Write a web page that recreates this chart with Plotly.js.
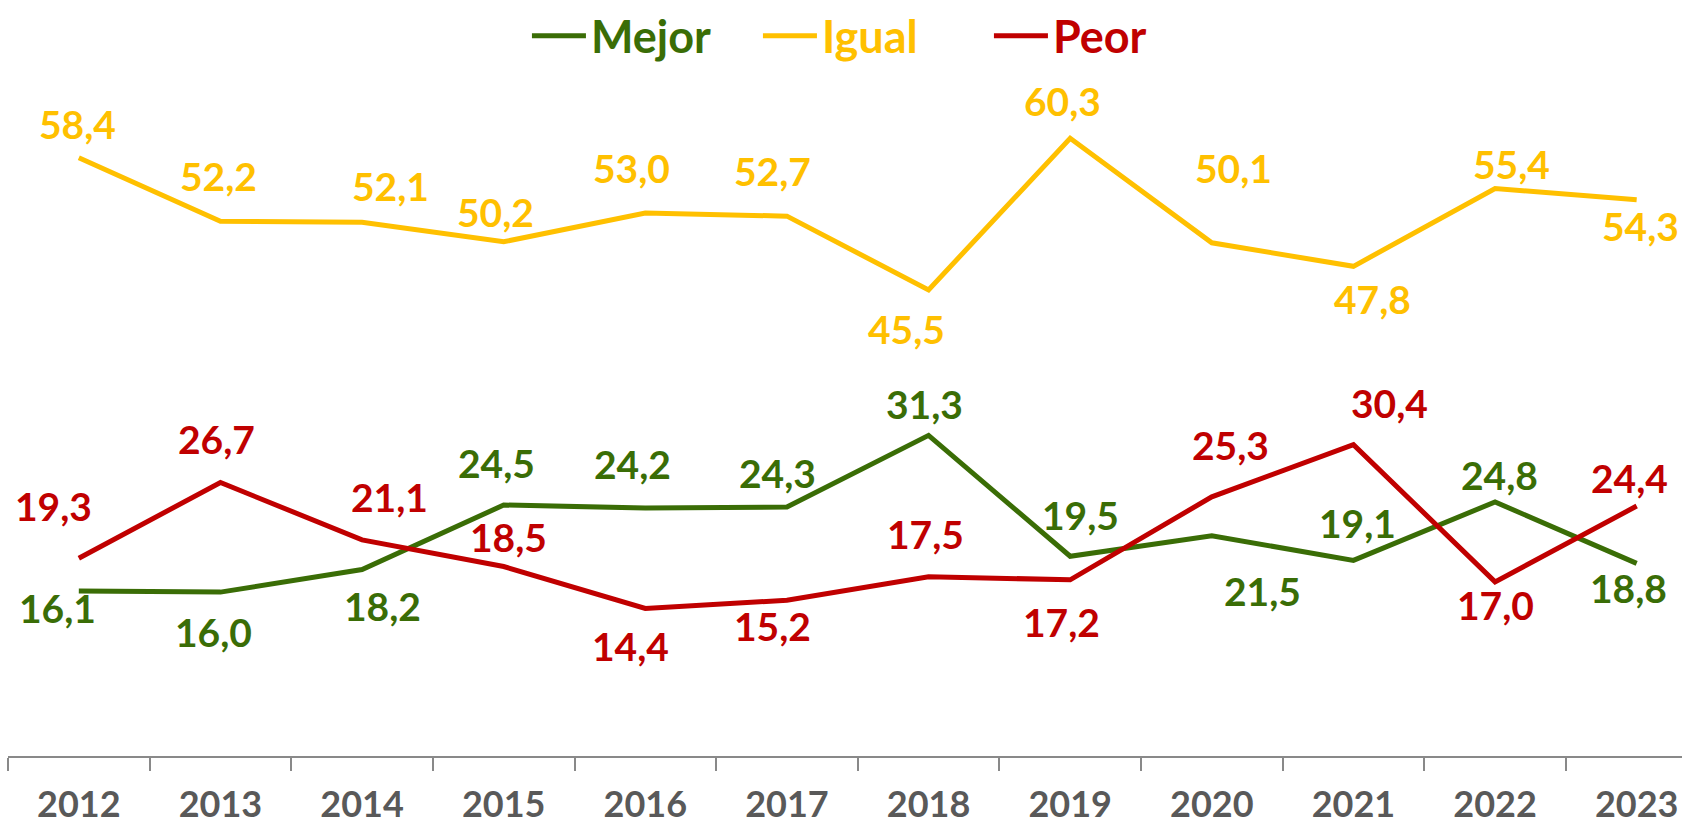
<!DOCTYPE html>
<html>
<head>
<meta charset="utf-8">
<script src="https://cdn.plot.ly/plotly-3.0.1.min.js"></script>
<style>html,body{margin:0;padding:0;background:#fff;}#chart{width:1682px;height:826px;}</style>
</head>
<body>
<div id="chart"></div>
<script>
// ---- data ----
const years = ["2012","2013","2014","2015","2016","2017","2018","2019","2020","2021","2022","2023"];
const mejor = [16.1, 16.0, 18.2, 24.5, 24.2, 24.3, 31.3, 19.5, 21.5, 19.1, 24.8, 18.8];
const igual = [58.4, 52.2, 52.1, 50.2, 53.0, 52.7, 45.5, 60.3, 50.1, 47.8, 55.4, 54.3];
const peor  = [19.3, 26.7, 21.1, 18.5, 14.4, 15.2, 17.5, 17.2, 25.3, 30.4, 17.0, 24.4];

// ---- label offsets (px; dx right, dy down) ----
const offMejor = [[-21,17],[-7,40],[20,36],[-7,-42],[-13,-44],[-9,-34],[-4,-31],[10,-41],[51,55],[4,-37],[4,-27],[-8,25]];
const offIgual = [[-1,-34],[-2,-45],[28,-36],[-8,-30],[-14,-45],[-14,-45],[-22,39],[-8,-37],[22,-75],[19,33],[16,-24],[4,26]];
const offPeor  = [[-25,-52],[-4,-43],[27,-43],[5,-29],[-15,38],[-14,26],[-3,-43],[-9,42],[19,-52],[36,-42],[0,23],[-7,-28]];

const cMejor = "#3a6d06", cIgual = "#ffc000", cPeor = "#c00000";
const FONT = "Lato, 'Open Sans', sans-serif";

function trace(name, vals, color) {
  return {
    type: "scatter", mode: "lines", x: years, y: vals,
    name: '<span style="color:' + color + '">' + name + '</span>',
    line: {color: color, width: 5},
    hoverinfo: "x+y"
  };
}
const data = [trace("Mejor", mejor, cMejor), trace("Igual", igual, cIgual), trace("Peor", peor, cPeor)];

const annotations = [];
function addLabels(vals, offs, color) {
  vals.forEach((v, i) => {
    annotations.push({
      x: i, y: v, xref: "x", yref: "y",
      text: v.toFixed(1).replace(".", ","),
      showarrow: false,
      xshift: offs[i][0], yshift: -offs[i][1],
      font: {family: FONT, size: 39, color: color, weight: "bold"}
    });
  });
}
addLabels(mejor, offMejor, cMejor);
addLabels(igual, offIgual, cIgual);
addLabels(peor, offPeor, cPeor);

const layout = {
  width: 1682, height: 826,
  margin: {l: 8, r: 0, t: 0, b: 70},
  paper_bgcolor: "#ffffff", plot_bgcolor: "#ffffff",
  showlegend: true,
  legend: {
    orientation: "h", xref: "paper", yref: "paper",
    x: 0.31, y: 1, xanchor: "left", yanchor: "top",
    font: {family: FONT, size: 45, weight: "bold"},
    itemwidth: 54, entrywidth: 162, entrywidthmode: "pixels",
    bgcolor: "rgba(0,0,0,0)"
  },
  xaxis: {
    type: "category", range: [-0.5, 11.32],
    tickson: "boundaries", ticks: "outside", ticklen: 13, tickwidth: 1.5, tickcolor: "#898989",
    showline: true, linecolor: "#898989", linewidth: 1.5,
    showgrid: false, zeroline: false, ticklabelstandoff: 16,
    tickfont: {family: FONT, size: 36, color: "#595959", weight: "bold"},
    fixedrange: true
  },
  yaxis: {range: [0, 73.8], visible: false, showgrid: false, zeroline: false, fixedrange: true},
  annotations: annotations
};

Plotly.newPlot("chart", data, layout, {displayModeBar: false});
</script>
</body>
</html>
